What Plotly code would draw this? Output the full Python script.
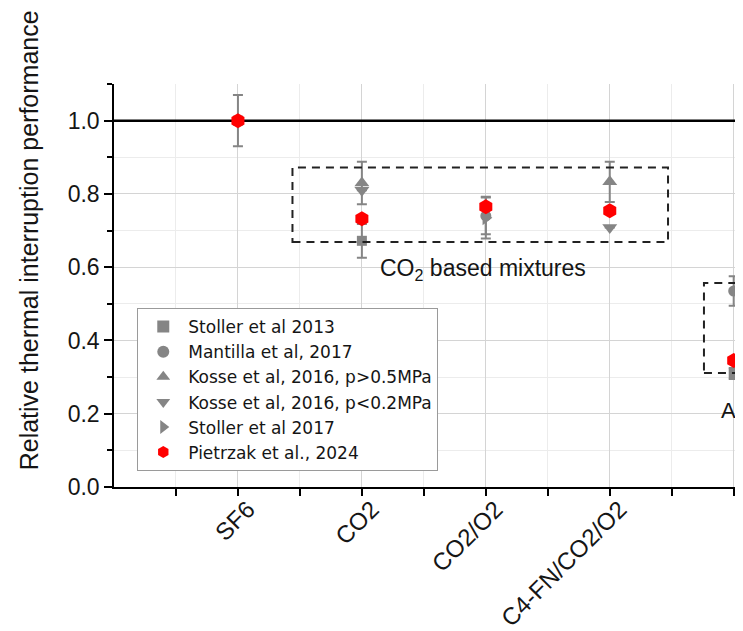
import plotly.graph_objects as go

categories = ["SF6", "CO2", "CO2/O2", "C4-FN/CO2/O2", "Air"]
cat_pos = [1, 2, 3, 4, 5]
x_range = [0, 5.075]
ref_level = 1.0

stoller2013 = [1.0, 0.672, None, None, 0.31]
stoller2013_err = [0.07, 0.046, 0, 0, 0.015]
mantilla2017 = [None, None, 0.74, None, 0.535]
mantilla2017_err = [0, 0, 0.05, 0, 0.04]
kosse_hi = [None, 0.83, None, 0.833, None]
kosse_hi_err = [0, 0.058, 0, 0.055, 0]
kosse_lo = [None, 0.81, None, 0.708, None]
kosse_lo_err = [0, 0, 0, 0, 0]
stoller2017 = [None, None, 0.735, None, None]
stoller2017_err = [0, 0, 0.057, 0, 0]
pietrzak2024 = [1.0, 0.732, 0.765, 0.754, 0.345]

y_ticks = [0.0, 0.2, 0.4, 0.6, 0.8, 1.0]
y_ticktext = ["0.0", "0.2", "0.4", "0.6", "0.8", "1.0"]

GRAY = "#858585"
FONT = "Liberation Sans, Arial, sans-serif"
TXT = "#151515"

fig = go.Figure()

# reference line at 1.0 (drawn first, above the grid, below the markers)
fig.add_trace(go.Scatter(
    x=x_range, y=[ref_level, ref_level], mode="lines",
    line=dict(color="black", width=2.5), showlegend=False, hoverinfo="skip",
))

def gray_trace(name, ys, errs, symbol, size):
    fig.add_trace(go.Scatter(
        x=cat_pos, y=ys, mode="markers", name=name,
        marker=dict(symbol=symbol, size=size, color=GRAY),
        error_y=dict(type="data", array=errs, visible=True,
                     color=GRAY, thickness=2, width=5),
        cliponaxis=False,
    ))

gray_trace("Stoller et al 2013", stoller2013, stoller2013_err, "square", 10)
gray_trace("Mantilla et al, 2017", mantilla2017, mantilla2017_err, "circle", 11)
gray_trace("Kosse et al, 2016, p>0.5MPa", kosse_hi, kosse_hi_err, "triangle-up", 13)
gray_trace("Kosse et al, 2016, p<0.2MPa", kosse_lo, kosse_lo_err, "triangle-down", 13)
gray_trace("Stoller et al 2017", stoller2017, stoller2017_err, "triangle-right", 13)

fig.add_trace(go.Scatter(
    x=cat_pos, y=pietrzak2024, mode="markers", name="Pietrzak et al., 2024",
    marker=dict(symbol="hexagon", size=15, color="#ff0000"),
    cliponaxis=False,
))

# dashed boxes
fig.add_shape(type="rect", xref="x", yref="y", x0=1.44, x1=4.47, y0=0.669, y1=0.872,
              line=dict(color="#222222", width=2, dash="8px,6px"))
fig.add_shape(type="rect", xref="x", yref="y", x0=4.76, x1=5.6, y0=0.311, y1=0.557,
              line=dict(color="#222222", width=2, dash="8px,6px"))

fig.add_annotation(x=2.975, y=0.593, xref="x", yref="y",
                   text="CO<sub>2</sub> based mixtures", showarrow=False,
                   font=dict(size=23, color=TXT, family=FONT))
fig.add_annotation(x=4.88, y=0.21, xref="x", yref="y", xanchor="left",
                   text="Air", showarrow=False,
                   font=dict(size=22, color=TXT, family=FONT))
# y title
fig.add_annotation(x=-0.16, y=0.613, xref="paper", yref="paper",
                   text="Relative thermal interruption performance",
                   textangle=-90, showarrow=False,
                   font=dict(size=25, color=TXT, family=FONT))

fig.update_layout(
    width=735, height=623,
    margin=dict(l=106, r=0, t=76, b=144, autoexpand=False),
    paper_bgcolor="white", plot_bgcolor="white",
    font=dict(family=FONT, color=TXT),
    showlegend=True,
    legend=dict(x=0.037, y=0.444, xanchor="left", yanchor="top",
                bordercolor="#9a9a9a", borderwidth=1, bgcolor="white",
                font=dict(size=17, family="DejaVu Sans", color=TXT),
                tracegroupgap=0, itemsizing="constant", itemwidth=40),
)

fig.update_xaxes(
    automargin=False,
    range=x_range, tickmode="array", tickvals=cat_pos, ticktext=categories,
    tickangle=-45, tickfont=dict(size=24, family=FONT, color=TXT),
    ticklabelshift=10, ticklabelstandoff=-10,
    showline=True, linecolor="black", linewidth=1.5,
    ticks="outside", ticklen=7, tickwidth=1.5, tickcolor="black",
    showgrid=True, gridcolor="#d4d4d4", gridwidth=1, zeroline=False,
    minor=dict(tickvals=[0.5, 1.5, 2.5, 3.5, 4.5], ticks="outside", ticklen=7,
               tickwidth=1.5, tickcolor="black", showgrid=True,
               gridcolor="#ececec", gridwidth=1),
)
fig.update_yaxes(
    automargin=False,
    range=[0, 1.1], tickmode="array", tickvals=y_ticks, ticktext=y_ticktext,
    tickfont=dict(size=23, family=FONT, color=TXT),
    showline=True, linecolor="black", linewidth=1.5,
    ticks="outside", ticklen=8, tickwidth=1.5, tickcolor="black",
    showgrid=True, gridcolor="#d4d4d4", gridwidth=1, zeroline=False,
    minor=dict(tickvals=[0.1, 0.3, 0.5, 0.7, 0.9, 1.1], ticks="outside", ticklen=5,
               tickwidth=1.5, tickcolor="black", showgrid=True,
               gridcolor="#ececec", gridwidth=1),
)

fig.write_html("out.html")
